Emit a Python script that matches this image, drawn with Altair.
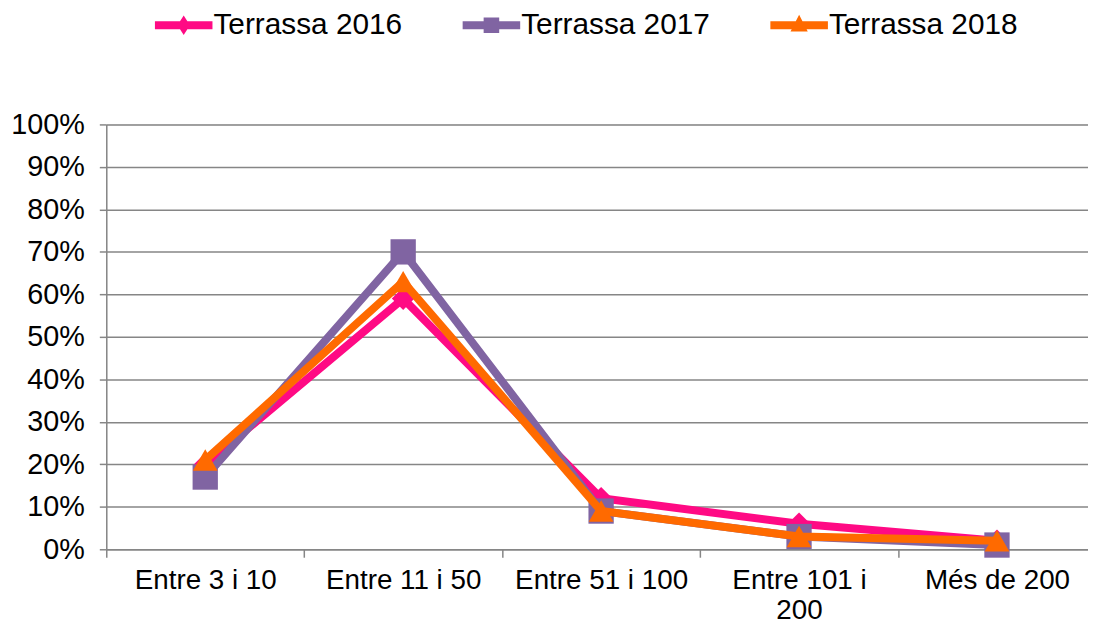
import altair as alt
import pandas as pd

categories = ["Entre 3 i 10", "Entre 11 i 50", "Entre 51 i 100", "Entre 101 i 200", "Més de 200"]
series = ["Terrassa 2016", "Terrassa 2017", "Terrassa 2018"]
v2016 = [0.20, 0.59, 0.12, 0.06, 0.02]
v2017 = [0.17, 0.70, 0.09, 0.03, 0.01]
v2018 = [0.21, 0.63, 0.09, 0.03, 0.02]
colors = ["#FF0A84", "#8064A2", "#FF6A00"]
marker_shapes = ["diamond", "square", "triangle-up"]
marker_sizes = [520, 650, 620]

legend_paths = [
    "M-2.07,-0.29 L2.07,-0.29 L2.07,0.29 L-2.07,0.29 Z M0,-0.7 L0.45,0 L0,0.7 L-0.45,0 Z",
    "M-2.07,-0.29 L2.07,-0.29 L2.07,0.29 L-2.07,0.29 Z M-0.56,-0.56 L0.56,-0.56 L0.56,0.56 L-0.56,0.56 Z",
    "M-2.07,-0.29 L2.07,-0.29 L2.07,0.29 L-2.07,0.29 Z M0,-0.75 L0.62,0.46 L-0.62,0.46 Z",
]

rows = []
for s, vals in zip(series, [v2016, v2017, v2018]):
    for c, v in zip(categories, vals):
        rows.append({"cat": c, "series": s, "value": v})
df = pd.DataFrame(rows)

gray = "#868686"

x_enc = alt.X(
    "cat:N",
    sort=categories,
    bandPosition=0.5,
    scale=alt.Scale(type="band", paddingInner=0, paddingOuter=0, range=[0, 997]),
    axis=alt.Axis(
        title=None,
        tickBand="extent",
        grid=False,
        labelAngle=0,
        labelFontSize=28,
        labelColor="black",
        labelPadding=10,
        labelLineHeight=30,
        labelLimit=400,
        tickSize=8,
        tickColor=gray,
        tickWidth=1.5,
        domainColor=gray,
        domainWidth=1.5,
        labelExpr="datum.label == 'Entre 101 i 200' ? ['Entre 101 i', '200'] : datum.label",
    ),
)
y_enc = alt.Y(
    "value:Q",
    scale=alt.Scale(domain=[0, 1]),
    axis=alt.Axis(
        title=None,
        format=".0%",
        values=[i / 10 for i in range(11)],
        labelFontSize=29,
        labelColor="black",
        labelPadding=15,
        tickSize=7,
        tickColor=gray,
        tickWidth=1.5,
        domainColor=gray,
        domainWidth=1.5,
        gridColor=gray,
        gridWidth=1.5,
    ),
)

layers = []
for i, s in enumerate(series):
    sub = alt.Chart(df).transform_filter(alt.datum.series == s)
    layers.append(
        sub.mark_line(strokeWidth=8, strokeJoin="miter", strokeCap="butt", color=colors[i]).encode(
            x=x_enc, y=y_enc
        )
    )
    layers.append(
        sub.mark_point(
            filled=True, opacity=1, shape=marker_shapes[i], size=marker_sizes[i], color=colors[i]
        ).encode(x=x_enc, y=y_enc)
    )

leg = alt.Legend(
    title=None,
    orient="none",
    legendX=63,
    legendY=-115,
    direction="horizontal",
    symbolSize=784,
    symbolOpacity=1,
    symbolStrokeWidth=0,
    labelFontSize=30,
    labelColor="black",
    labelOffset=15,
    labelLimit=400,
    columnPadding=60,
    padding=0,
)
legend_layer = alt.Chart(df).mark_point(filled=True, opacity=0).encode(
    x=x_enc,
    y=y_enc,
    color=alt.Color("series:N", scale=alt.Scale(domain=series, range=colors), legend=leg),
    shape=alt.Shape("series:N", scale=alt.Scale(domain=series, range=legend_paths), legend=leg),
)
layers.append(legend_layer)

chart = (
    alt.layer(*layers)
    .properties(
        width=989,
        height=428,
        autosize=alt.AutoSizeParams(type="none"),
        padding={"left": 99, "top": 115, "right": 0, "bottom": 76},
    )
    .configure_view(stroke=None)
    .configure(font="Liberation Sans")
)

chart.save("out.html", embed_options={"renderer": "svg", "actions": False})
